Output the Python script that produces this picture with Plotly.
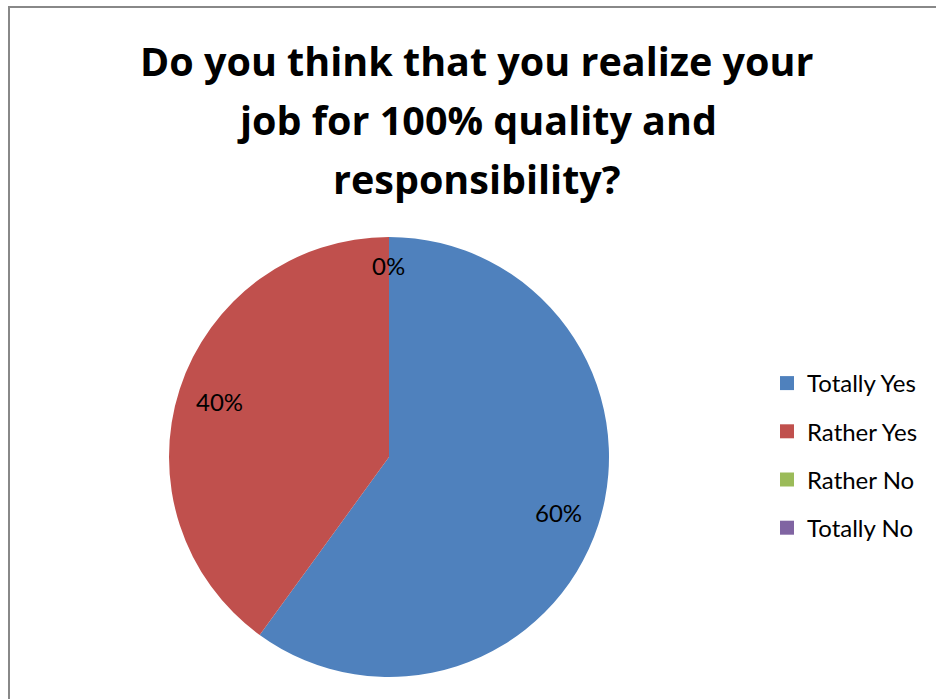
import math
import plotly.graph_objects as go

# Survey answers
categories = ["Totally Yes", "Rather Yes", "Rather No", "Totally No"]
shares = [60, 40, 0, 0]
colors = ["#4F81BD", "#C0504D", "#9BBB59", "#8064A2"]
title_lines = [
    "Do you think that you realize your",
    "job for 100% quality and",
    "responsibility?",
]

W, H = 936, 699
FONT = "Lato, 'Open Sans', sans-serif"
TITLE_FONT = "'Open Sans', Lato, sans-serif"

# Pie geometry (pixels)
cx, cy, R = 389, 457, 220

fig = go.Figure()
fig.add_trace(go.Pie(
    labels=categories,
    values=shares,
    marker=dict(colors=colors, line=dict(width=0)),
    sort=False,
    direction="clockwise",
    rotation=0,
    textinfo="none",
    hoverinfo="label+percent",
    showlegend=False,
    domain=dict(x=[(cx - R) / W, (cx + R) / W],
                y=[(H - cy - R) / H, (H - cy + R) / H]),
))

# Percentage labels placed at each slice's mid-angle
total = sum(shares)
start = 0.0
annotations = []
for i, v in enumerate(shares):
    frac = v / total
    mid = (start + frac / 2) * 2 * math.pi
    rf = 0.81 if v > 0 else 0.87
    px = cx + rf * R * math.sin(mid)
    py = cy - rf * R * math.cos(mid)
    start += frac
    if v == 0 and i > 2:
        continue  # zero slices share one spot at the top
    annotations.append(dict(
        x=px / W, y=1 - py / H, xref="paper", yref="paper",
        text=f"{round(frac * 100)}%", showarrow=False,
        font=dict(family=FONT, size=24, color="#000000"),
        xanchor="center", yanchor="middle",
    ))

# Title, one annotation per line
for k, line in enumerate(title_lines):
    annotations.append(dict(
        x=477 / W, y=1 - (61 + 59 * k) / H, xref="paper", yref="paper",
        text=f"<b>{line}</b>", showarrow=False,
        font=dict(family=TITLE_FONT, size=39.5, color="#000000"),
        xanchor="center", yanchor="middle",
    ))

# Legend entries
for name, col in zip(categories, colors):
    fig.add_trace(go.Scatter(
        x=[None], y=[None], mode="markers", name=name,
        legendgroup=name,
        marker=dict(symbol="square", size=14, color=col),
    ))

fig.update_layout(
    width=W, height=H,
    margin=dict(l=0, r=0, t=0, b=0),
    paper_bgcolor="white", plot_bgcolor="white",
    xaxis=dict(visible=False), yaxis=dict(visible=False),
    annotations=annotations,
    legend=dict(
        x=767 / W, y=1 - 361 / H, xanchor="left", yanchor="top",
        font=dict(family=FONT, size=24, color="#000000"),
        tracegroupgap=14, itemclick=False, itemdoubleclick=False,
        bgcolor="rgba(0,0,0,0)",
    ),
    shapes=[dict(
        type="rect", xref="paper", yref="paper",
        x0=9 / W, x1=1.05, y0=-0.05, y1=1 - 7 / H,
        line=dict(color="#888888", width=2), fillcolor="rgba(0,0,0,0)",
        layer="below",
    )],
)

fig.write_html("out.html")
